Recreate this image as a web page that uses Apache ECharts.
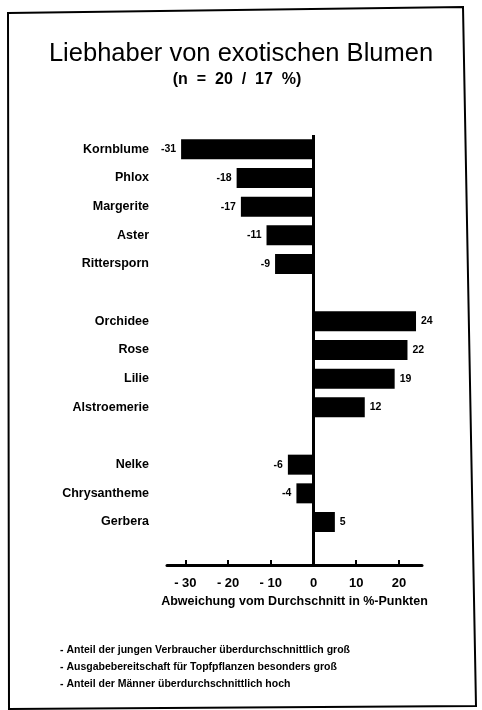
<!DOCTYPE html>
<html>
<head>
<meta charset="utf-8">
<script src="https://cdn.jsdelivr.net/npm/echarts@6/dist/echarts.min.js"></script>
<style>
  html, body { margin: 0; padding: 0; background: #fff; }
  #chart { width: 482px; height: 710px; }
</style>
</head>
<body>
<div id="chart"></div>
<script>
// Flowers, top to bottom; blank entries are the gaps between the groups
const categories = [
  'Kornblume', 'Phlox', 'Margerite', 'Aster', 'Rittersporn', ' ',
  'Orchidee', 'Rose', 'Lilie', 'Alstroemerie', '  ',
  'Nelke', 'Chrysantheme', 'Gerbera', '   '
];
const deviations = [-31, -18, -17, -11, -9, null, 24, 22, 19, 12, null, -6, -4, 5, null];
const tickValues = [-30, -20, -10, 0, 10, 20];
const footnotes = [
  '- Anteil der jungen Verbraucher überdurchschnittlich groß',
  '- Ausgabebereitschaft für Topfpflanzen besonders groß',
  '- Anteil der Männer überdurchschnittlich hoch'
];

const font = '"Liberation Sans", Arial, sans-serif';

const barData = deviations.map(v => {
  if (v === null) return null;
  return {
    value: v,
    label: { position: v < 0 ? 'left' : 'right' }
  };
});

const chart = echarts.init(document.getElementById('chart'));

chart.setOption({
  backgroundColor: '#fff',
  animation: false,
  title: [
    {
      text: 'Liebhaber von exotischen Blumen',
      left: 236, top: 36, textAlign: 'center',
      textStyle: { fontFamily: font, fontSize: 25.5, fontWeight: 'normal', color: '#000' }
    },
    {
      text: '(n  =  20  /  17  %)',
      left: 232, top: 67, textAlign: 'center',
      textStyle: { fontFamily: font, fontSize: 16, fontWeight: 'bold', color: '#000' }
    }
  ],
  grid: { left: 167, right: 60, top: 135, bottom: 145, containLabel: false },
  xAxis: {
    type: 'value',
    min: -34.3,
    max: 25.4,
    name: 'Abweichung vom Durchschnitt in %-Punkten',
    nameLocation: 'middle',
    nameGap: 30,
    nameTextStyle: { fontFamily: font, fontSize: 12.5, fontWeight: 'bold', color: '#000' },
    axisLine: { show: true, onZero: false, lineStyle: { color: '#000', width: 3 } },
    axisTick: { show: true, inside: true, length: 5, customValues: tickValues, lineStyle: { color: '#000', width: 2 } },
    axisLabel: {
      customValues: tickValues,
      margin: 12,
      fontFamily: font, fontSize: 13, fontWeight: 'bold', color: '#000',
      formatter: v => (v < 0 ? '- ' + Math.abs(v) : String(v))
    },
    splitLine: { show: false }
  },
  yAxis: {
    type: 'category',
    inverse: true,
    data: categories,
    axisLine: { show: false },
    axisTick: { show: false },
    axisLabel: {
      margin: 18,
      fontFamily: font, fontSize: 12.5, fontWeight: 'bold', color: '#000'
    }
  },
  series: [
    {
      type: 'bar',
      data: barData,
      barWidth: 20,
      itemStyle: { color: '#000' },
      label: {
        show: true,
        distance: 5,
        fontFamily: font, fontSize: 10.5, fontWeight: 'bold', color: '#000'
      },
      markLine: {
        silent: true,
        symbol: 'none',
        label: { show: false },
        lineStyle: { color: '#000', width: 3, type: 'solid' },
        data: [{ xAxis: 0 }]
      }
    }
  ],
  graphic: [
    // skewed frame around the sheet
    {
      type: 'polygon',
      shape: { points: [[8, 13], [463, 7], [476, 706], [9, 709]] },
      style: { fill: 'none', stroke: '#000', lineWidth: 2 },
      silent: true
    }
  ].concat(footnotes.map((t, i) => ({
    type: 'text',
    left: 60,
    top: 645 + i * 17,
    style: { text: t, fontFamily: font, fontSize: 10.5, fontWeight: 'bold', fill: '#000' }
  })))
});
</script>
</body>
</html>
